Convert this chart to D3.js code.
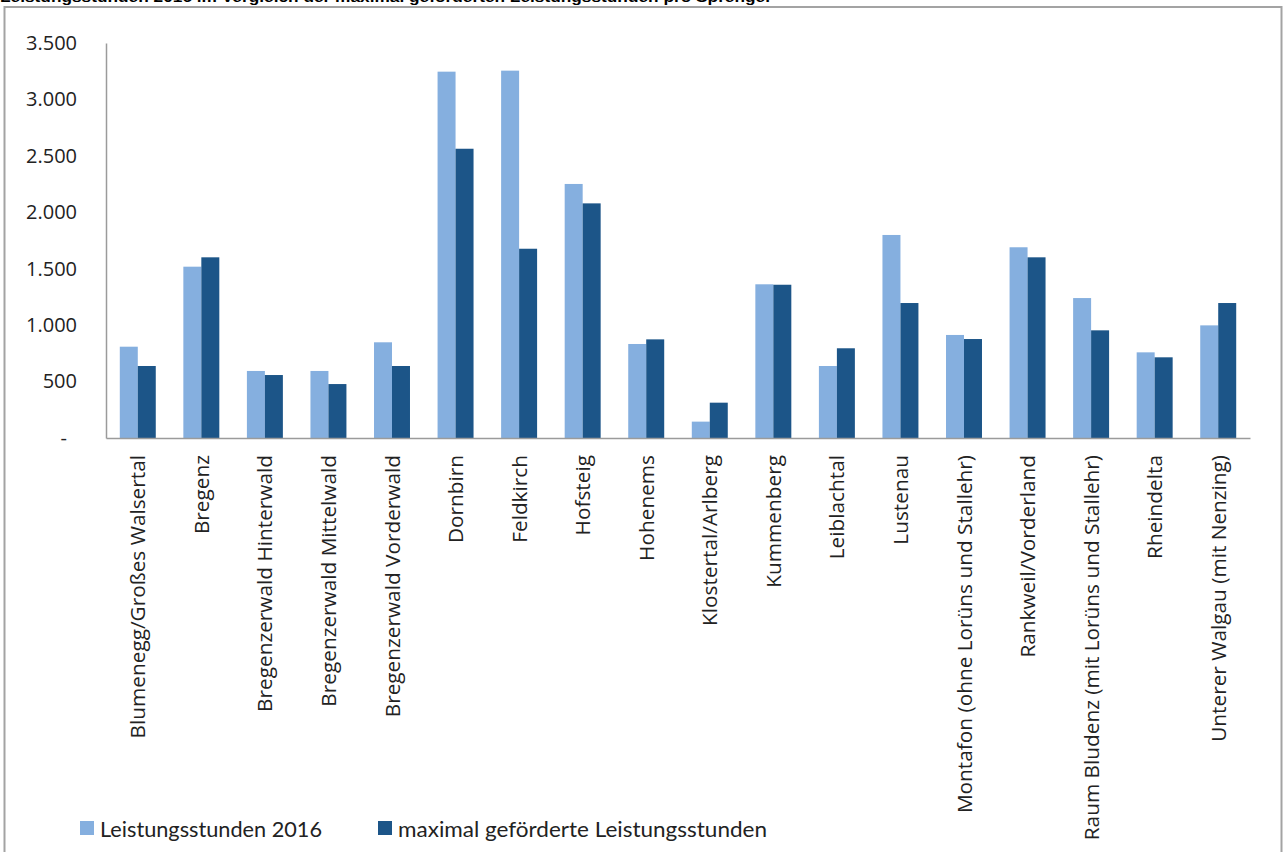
<!DOCTYPE html>
<html>
<head>
<meta charset="utf-8">
<script src="https://cdn.jsdelivr.net/npm/d3@7"></script>
<style>
  html, body { margin: 0; padding: 0; background: #fff; overflow: hidden; }
  svg { display: block; }
</style>
</head>
<body>
<svg id="chart" width="1286" height="852"></svg>
<script>
const categories = [
  "Blumenegg/Großes Walsertal", "Bregenz", "Bregenzerwald Hinterwald",
  "Bregenzerwald Mittelwald", "Bregenzerwald Vorderwald", "Dornbirn",
  "Feldkirch", "Hofsteig", "Hohenems", "Klostertal/Arlberg", "Kummenberg",
  "Leiblachtal", "Lustenau", "Montafon (ohne Lorüns und Stallehr)",
  "Rankweil/Vorderland", "Raum Bludenz (mit Lorüns und Stallehr)",
  "Rheindelta", "Unterer Walgau (mit Nenzing)"
];
const leistungsstunden2016 = [809, 1518, 594, 594, 848, 3246, 3255, 2251, 833, 145, 1362, 638, 1799, 913, 1690, 1240, 759, 998];
const maximalGefoerdert   = [638, 1601, 558, 478, 638, 2563, 1677, 2079, 874, 313, 1358, 795, 1196, 877, 1601, 954, 715, 1196];
const seriesNames = ["Leistungsstunden 2016", "maximal geförderte Leistungsstunden"];
const yTicks = [0, 500, 1000, 1500, 2000, 2500, 3000, 3500];
const yTickLabels = ["-", "500", "1.000", "1.500", "2.000", "2.500", "3.000", "3.500"];
const titleText = "Leistungsstunden 2016 im Vergleich der maximal geförderten Leistungsstunden pro Sprengel";

const colors = ["#85afdf", "#1c5588"];
const series = [leistungsstunden2016, maximalGefoerdert];

const svg = d3.select("#chart");

// outer chart border
svg.append("rect")
  .attr("x", 4.5).attr("y", 7).attr("width", 1277).attr("height", 900)
  .attr("fill", "none").attr("stroke", "#a3a3a3").attr("stroke-width", 2);

// title (cut off at the top edge, as in the reference)
svg.append("text")
  .attr("x", 0).attr("y", 1.5)
  .attr("font-family", "Liberation Sans, Arial, sans-serif")
  .attr("font-weight", "bold").attr("font-size", 15)
  .attr("fill", "#000")
  .attr("textLength", 770).attr("lengthAdjust", "spacingAndGlyphs")
  .text(titleText);

const plotLeft = 106, plotRight = 1250, plotTop = 43, plotBottom = 438;

const x = d3.scaleBand().domain(categories).range([plotLeft, plotRight])
  .paddingInner(0.434).paddingOuter(0.217);
const xs = d3.scaleBand().domain([0, 1]).range([0, x.bandwidth()]);
const y = d3.scaleLinear().domain([0, 3500]).range([plotBottom, plotTop]);

// bars
const groups = svg.append("g").selectAll("g")
  .data(categories).join("g")
  .attr("transform", d => `translate(${x(d)},0)`);
groups.selectAll("rect")
  .data((d, i) => series.map((s, k) => ({k, v: s[i]})))
  .join("rect")
  .attr("x", d => xs(d.k))
  .attr("width", xs.bandwidth())
  .attr("y", d => y(d.v))
  .attr("height", d => plotBottom - y(d.v))
  .attr("fill", d => colors[d.k]);

// y axis
const yAxis = d3.axisLeft(y).tickValues(yTicks)
  .tickFormat((d, i) => yTickLabels[i]).tickSize(0).tickPadding(29);
const gy = svg.append("g").attr("transform", `translate(${plotLeft},0)`).call(yAxis);
gy.select(".domain").attr("stroke", "#9b9b9b").attr("stroke-width", 1.5);
gy.selectAll("text")
  .attr("font-family", "Open Sans, sans-serif").attr("font-size", 20)
  .attr("fill", "#222");
gy.selectAll(".tick").filter(d => d === 0).select("text").attr("x", -39);

// x axis
const xAxis = d3.axisBottom(x).tickSize(0).tickPadding(0);
const gx = svg.append("g").attr("transform", `translate(0,${plotBottom})`).call(xAxis);
gx.select(".domain").attr("stroke", "#9b9b9b").attr("stroke-width", 1.5);
gx.selectAll("text")
  .attr("font-family", "Open Sans, sans-serif").attr("font-size", 20.8)
  .attr("fill", "#222")
  .attr("text-anchor", "end")
  .attr("transform", "translate(0,17) rotate(-90)")
  .attr("x", 0).attr("y", 0).attr("dy", "0.36em");

// legend
const legendX = [80, 378];
const legendW = [222, 369];
const lg = svg.append("g").selectAll("g").data(seriesNames).join("g")
  .attr("transform", (d, i) => `translate(${legendX[i]},821)`);
lg.append("rect").attr("x", 0).attr("y", 0).attr("width", 14).attr("height", 14)
  .attr("fill", (d, i) => colors[i]);
lg.append("text").attr("x", 20).attr("y", 15.5)
  .attr("font-family", "Lato, sans-serif").attr("font-size", 21)
  .attr("fill", "#222")
  .attr("textLength", (d, i) => legendW[i]).attr("lengthAdjust", "spacingAndGlyphs")
  .text(d => d);
</script>
</body>
</html>
